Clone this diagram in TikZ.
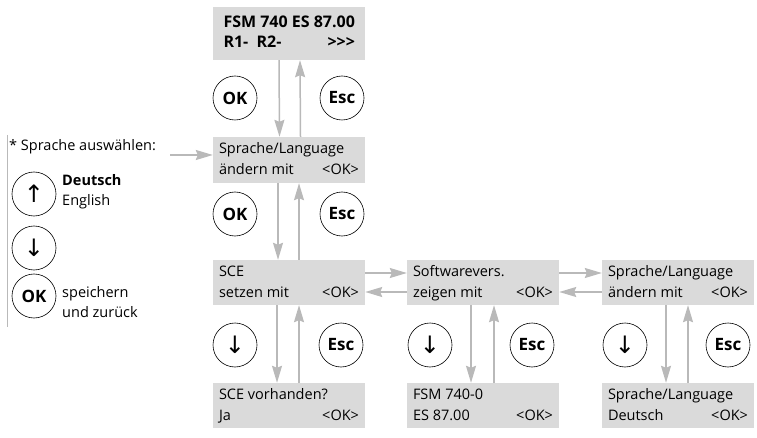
\documentclass[tikz,border=0pt]{standalone}
\usepackage{fontspec}
\setmainfont{Open Sans}
\newfontfamily\symfont{DejaVu Sans}
\usetikzlibrary{arrows.meta}
\definecolor{boxgray}{RGB}{218,218,218}
\definecolor{arrgray}{RGB}{185,185,185}
\newcommand{\twoline}[3]{\begin{tabular*}{140pt}{@{}l@{\extracolsep{\fill}}r@{}}\multicolumn{2}{@{}l@{}}{#1}\\#2&#3\end{tabular*}}
\newcommand{\twolinetop}[3]{\begin{tabular*}{130pt}{@{}l@{\extracolsep{\fill}}r@{}}\multicolumn{2}{@{}l@{}}{#1}\\#2&#3\end{tabular*}}
\tikzset{
  dispbox/.style={fill=boxgray,draw=none,minimum width=152pt,minimum height=45pt,inner sep=0pt,font=\fontsize{14.5}{21}\selectfont},
  keybtn/.style={circle,draw=black,line width=0.6pt,minimum size=44pt,inner sep=0pt,font=\fontsize{17}{17}\selectfont\bfseries},
  arrowkey/.style={circle,draw=black,line width=0.6pt,minimum size=44pt,inner sep=0pt,font=\fontsize{24}{24}\selectfont\symfont},
  arr/.style={draw=arrgray,line width=1.5pt,-{Stealth[length=17pt,width=10pt,inset=2pt]}},
  txt/.style={inner sep=0pt,font=\fontsize{14.5}{20}\selectfont,align=left},
}
\begin{document}
\begin{tikzpicture}[x=1pt,y=-1pt]
\useasboundingbox (0,0) rectangle (757,438);
% display boxes
\node[dispbox,minimum height=53pt,font=\fontsize{16}{20}\selectfont\bfseries] (b1) at (288.5,33.5) {\twolinetop{FSM 740 ES 87.00}{R1-\ \ R2-}{>\kern0pt>\kern0pt>}};
\node[dispbox,minimum height=46pt] (b2) at (289,160) {\twoline{Sprache/Language}{ändern mit}{<OK>}};
\node[dispbox] (sce) at (289,282.5) {\twoline{SCE}{setzen mit}{<OK>}};
\node[dispbox] (scev) at (289,405.5) {\twoline{SCE vorhanden?}{Ja}{<OK>}};
\node[dispbox] (sw) at (483,282.5) {\twoline{Softwarevers.}{zeigen mit}{<OK>}};
\node[dispbox] (fsm) at (483,405.5) {\twoline{FSM 740-0}{ES 87.00}{<OK>}};
\node[dispbox] (sl) at (678,282.5) {\twoline{Sprache/Language}{ändern mit}{<OK>}};
\node[dispbox] (sld) at (678,405.5) {\twoline{Sprache/Language}{Deutsch}{<OK>}};
% keys
\node[keybtn] (ok1) at (235,98) {OK};
\node[keybtn] (esc1) at (342,98) {Esc};
\node[keybtn] (ok2) at (235,214) {OK};
\node[keybtn] (esc2) at (342,214) {Esc};
\node[arrowkey] (dn1) at (235,345) {↓};
\node[keybtn] (esc3) at (341,345) {Esc};
\node[arrowkey] (dn2) at (430,345) {↓};
\node[keybtn] (esc4) at (532,345) {Esc};
\node[arrowkey] (dn3) at (625,345) {↓};
\node[keybtn] (esc5) at (728,345) {Esc};
% vertical arrows
\draw[arr] ([xshift=-9.5pt]b1.south) -- ([xshift=-9.5pt]b2.north);
\draw[arr] ([xshift=11.5pt]b2.north) -- ([xshift=11.5pt]b1.south);
\draw[arr] ([xshift=-11pt]b2.south) -- ([xshift=-11pt]sce.north);
\draw[arr] ([xshift=10pt]sce.north) -- ([xshift=10pt]b2.south);
\draw[arr] ([xshift=-12pt]sce.south) -- ([xshift=-12pt]scev.north);
\draw[arr] ([xshift=10pt]scev.north) -- ([xshift=10pt]sce.south);
\draw[arr] ([xshift=-12pt]sw.south) -- ([xshift=-12pt]fsm.north);
\draw[arr] ([xshift=11pt]fsm.north) -- ([xshift=11pt]sw.south);
\draw[arr] ([xshift=-12pt]sl.south) -- ([xshift=-12pt]sld.north);
\draw[arr] ([xshift=10pt]sld.north) -- ([xshift=10pt]sl.south);
% horizontal arrows
\draw[arr] ([yshift=9.5pt]sce.east) -- ([yshift=9.5pt]sw.west);
\draw[arr] ([yshift=-9.5pt]sw.west) -- ([yshift=-9.5pt]sce.east);
\draw[arr] ([yshift=9.5pt]sw.east) -- ([yshift=9.5pt]sl.west);
\draw[arr] ([yshift=-9.5pt]sl.west) -- ([yshift=-9.5pt]sw.east);
% left panel
\coordinate (lt) at (7,135);
\coordinate (lb) at (7,327);
\draw[arrgray,line width=1pt] (lt) -- (lb);
\node[txt,anchor=west] (sel) at (9,147) {* Sprache auswählen:};
\coordinate (ain) at (170,155);
\draw[arr] (ain) -- (ain -| b2.west);
\node[arrowkey] (up) at (34,194) {↑};
\node[arrowkey] (dnl) at (34,248) {↓};
\node[keybtn] (okl) at (34,296) {OK};
\node[txt,anchor=west] (lang) at (62,192) {\textbf{Deutsch}\\English};
\node[txt,anchor=west] (save) at (62,302) {speichern\\und zurück};
\end{tikzpicture}
\end{document}
